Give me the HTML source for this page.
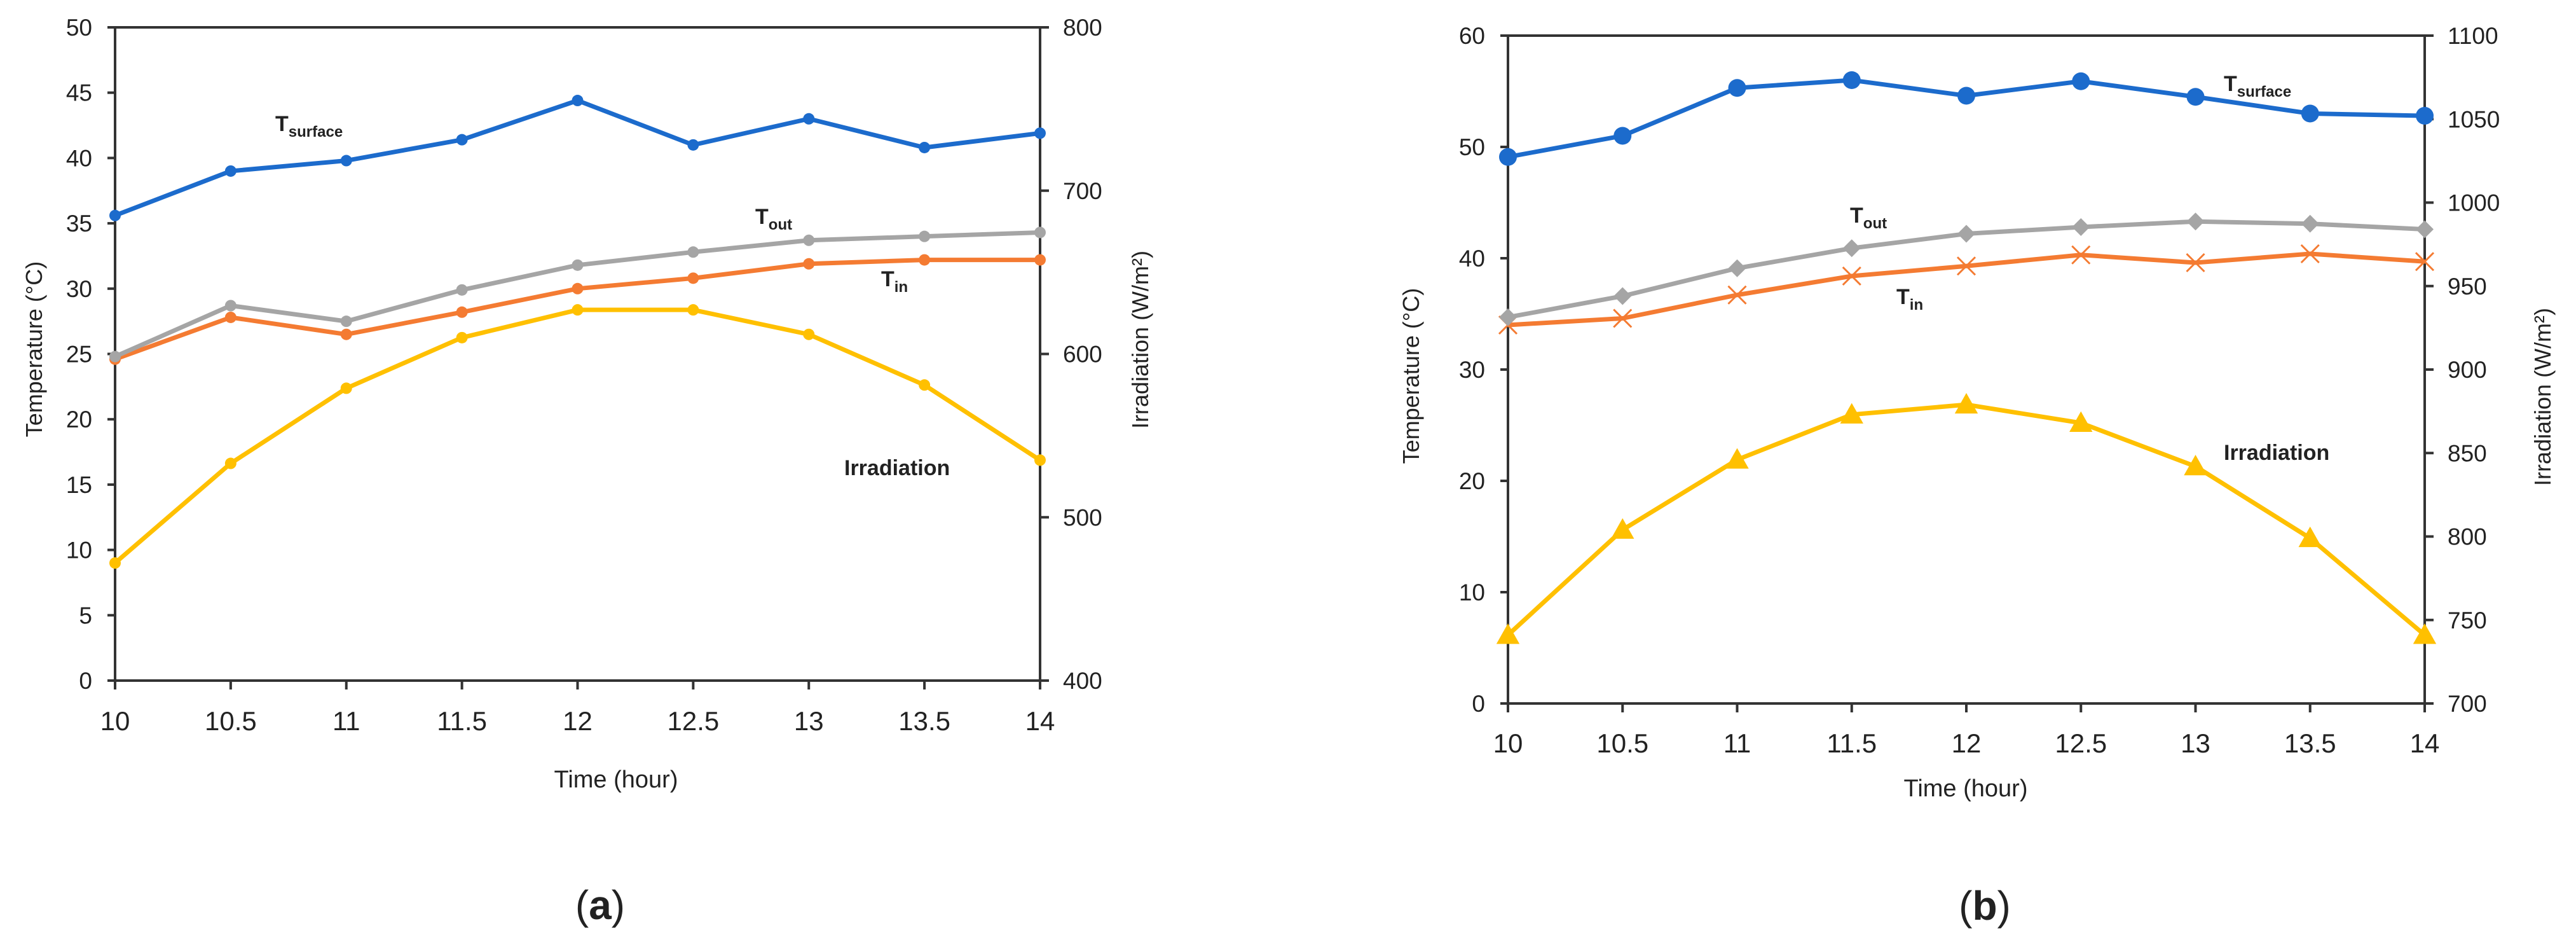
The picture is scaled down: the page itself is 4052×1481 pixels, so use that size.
<!DOCTYPE html>
<html><head><meta charset="utf-8"><style>
html,body{margin:0;padding:0;background:#fff;}
svg{display:block;}
text{font-family:"Liberation Sans",sans-serif;fill:#222;}
</style></head><body>
<svg id="fig" width="4052" height="1481" viewBox="0 0 4052 1481" xmlns="http://www.w3.org/2000/svg"></svg>
<script>
const hours = [10,10.5,11,11.5,12,12.5,13,13.5,14];
const xTicks = ["10","10.5","11","11.5","12","12.5","13","13.5","14"];
// Panel (a)
const aSurface = [35.6,39.0,39.8,41.4,44.4,41.0,43.0,40.8,41.9];
const aOut = [24.8,28.7,27.5,29.9,31.8,32.8,33.7,34.0,34.3];
const aIn = [24.6,27.8,26.5,28.2,30.0,30.8,31.9,32.2,32.2];
const aIrr = [472,533,579,610,627,627,612,581,535];
const aLeftTicks = [0,5,10,15,20,25,30,35,40,45,50];
const aRightTicks = [400,500,600,700,800];
// Panel (b)
const bSurface = [49.1,51.0,55.3,56.0,54.6,55.9,54.5,53.0,52.8];
const bOut = [34.7,36.6,39.1,40.9,42.2,42.8,43.3,43.1,42.6];
const bIn = [34.0,34.6,36.7,38.4,39.3,40.3,39.6,40.4,39.7];
const bIrr = [741,804,846,873,879,868,842,799,741];
const bLeftTicks = [0,10,20,30,40,50,60];
const bRightTicks = [700,750,800,850,900,950,1000,1050,1100];

const NS="http://www.w3.org/2000/svg";
const svg=document.getElementById('fig');
function mk(tag,attrs,parent){const e=document.createElementNS(NS,tag);for(const k in attrs)e.setAttribute(k,attrs[k]);(parent||svg).appendChild(e);return e;}

function panel(cfg){
  const g=mk('g',{});
  
  
  const sx=v=>cfg.x0+(v-10)/4*(cfg.x1-cfg.x0);
  const syL=v=>cfg.yb-(v-cfg.lmin)/(cfg.lmax-cfg.lmin)*(cfg.yb-cfg.yt);
  const syR=v=>cfg.yb-(v-cfg.rmin)/(cfg.rmax-cfg.rmin)*(cfg.yb-cfg.yt);
  const ax={stroke:'#333','stroke-width':4,fill:'none'};
  let e=mk('line',Object.assign({x1:cfg.x0,y1:cfg.yt,x2:cfg.x0,y2:cfg.yb},ax),g);
  
  e=mk('line',Object.assign({x1:cfg.x1,y1:cfg.yt,x2:cfg.x1,y2:cfg.yb},ax),g);
  
  e=mk('line',Object.assign({x1:cfg.x0-12,y1:cfg.yt,x2:cfg.x1,y2:cfg.yt},ax),g);
  
  e=mk('line',Object.assign({x1:cfg.x0-12,y1:cfg.yb,x2:cfg.x1+14,y2:cfg.yb},ax),g);
  
  cfg.lt.forEach(v=>{const y=syL(v);
    mk('line',Object.assign({x1:cfg.x0-12,y1:y,x2:cfg.x0,y2:y},ax),g);
    const t=mk('text',{x:cfg.x0-36,y:y+13,'text-anchor':'end','font-size':37},g);t.textContent=v;
    });
  cfg.rt.forEach(v=>{const y=syR(v);
    mk('line',Object.assign({x1:cfg.x1,y1:y,x2:cfg.x1+14,y2:y},ax),g);
    const t=mk('text',{x:cfg.x1+36,y:y+13,'font-size':37},g);t.textContent=v;
    });
  hours.forEach((h,i)=>{const x=sx(h);
    mk('line',Object.assign({x1:x,y1:cfg.yb,x2:x,y2:cfg.yb+14},ax),g);
    const t=mk('text',{x:x,y:cfg.xly,'text-anchor':'middle','font-size':42},g);t.textContent=xTicks[i];
    });
  function series(vals,sy,color,marker,name){
    const sg=mk('g',{},g);
    
    const pts=vals.map((v,i)=>[sx(hours[i]),sy(v)]);
    mk('polyline',{points:pts.map(p=>p.join(',')).join(' '),fill:'none',stroke:color,'stroke-width':7,'stroke-linejoin':'round'},sg);
    pts.forEach(p=>{let m;const s=cfg.ms;
      if(marker==='circle')m=mk('circle',{cx:p[0],cy:p[1],r:s,fill:color},sg);
      else if(marker==='diamond')m=mk('polygon',{points:`${p[0]},${p[1]-s} ${p[0]+s},${p[1]} ${p[0]},${p[1]+s} ${p[0]-s},${p[1]}`,fill:color},sg);
      else if(marker==='x')m=mk('path',{d:`M${p[0]-s} ${p[1]-s}L${p[0]+s} ${p[1]+s}M${p[0]+s} ${p[1]-s}L${p[0]-s} ${p[1]+s}`,stroke:color,'stroke-width':3,fill:'none'},sg);
      else m=mk('polygon',{points:`${p[0]},${p[1]-s*1.3} ${p[0]+s*1.3},${p[1]+s} ${p[0]-s*1.3},${p[1]+s}`,fill:color},sg);
      });
  }
  const mkrs=cfg.markers;
  series(cfg.irr,syR,'#FFC000',mkrs[3],'irradiation-series');
  series(cfg.tin,syL,'#F47B32',mkrs[2],'t-in-series');
  series(cfg.tout,syL,'#A5A5A5',mkrs[1],'t-out-series');
  series(cfg.surf,syL,'#1C6BCC',mkrs[0],'t-surface-series');
  function lab(x,y,main,sub,name){const t=mk('text',{x:x,y:y,'font-size':34,'font-weight':'bold'},g);
    
    const a=mk('tspan',{},t);a.textContent=main;
    if(sub){const b=mk('tspan',{dy:9,'font-size':24},t);b.textContent=sub;}}
  lab(cfg.ls[0],cfg.ls[1],'T','surface','t-surface-label');
  lab(cfg.lo[0],cfg.lo[1],'T','out','t-out-label');
  lab(cfg.li[0],cfg.li[1],'T','in','t-in-label');
  lab(cfg.lr[0],cfg.lr[1],'Irradiation','', 'irradiation-label');
  let t=mk('text',{x:0,y:0,'font-size':36,'text-anchor':'middle',transform:`translate(${cfg.ltx},${cfg.lty}) rotate(-90)`},g);
  t.textContent='Temperature (°C)';
  t=mk('text',{x:0,y:0,'font-size':36,'text-anchor':'middle',transform:`translate(${cfg.rtx},${cfg.rty}) rotate(-90)`},g);
  t.textContent='Irradiation (W/m²)';
  t=mk('text',{x:cfg.xtx,y:cfg.xty,'font-size':38,'text-anchor':'middle'},g);
  t.textContent='Time (hour)';
  t=mk('text',{x:cfg.capx,y:cfg.capy,'font-size':64,'text-anchor':'middle','font-family':'Liberation Serif, serif'},g);
  
  mk('tspan',{},t).textContent='(';const bb=mk('tspan',{'font-weight':'bold'},t);bb.textContent=cfg.cap;mk('tspan',{},t).textContent=')';
}
panel({name:'chart-a',x0:181,x1:1636,yt:43,yb:1070,lmin:0,lmax:50,rmin:400,rmax:800,lt:aLeftTicks,rt:aRightTicks,
  surf:aSurface,tout:aOut,tin:aIn,irr:aIrr,markers:['circle','circle','circle','circle'],ms:9,xly:1148,
  ls:[433,206],lo:[1188,352],li:[1386,450],lr:[1328,747],ltx:66,lty:549,rtx:1806,rty:534,xtx:969,xty:1238,capx:944,capy:1445,cap:'a'});
panel({name:'chart-b',x0:2372,x1:3814,yt:56,yb:1106,lmin:0,lmax:60,rmin:700,rmax:1100,lt:bLeftTicks,rt:bRightTicks,
  surf:bSurface,tout:bOut,tin:bIn,irr:bIrr,markers:['circle','diamond','x','triangle'],ms:14,xly:1183,
  ls:[3498,143],lo:[2910,350],li:[2983,478],lr:[3498,723],ltx:2232,lty:591,rtx:4012,rty:624,xtx:3092,xty:1252,capx:3122,capy:1446,cap:'b'});
</script>
</body></html>
